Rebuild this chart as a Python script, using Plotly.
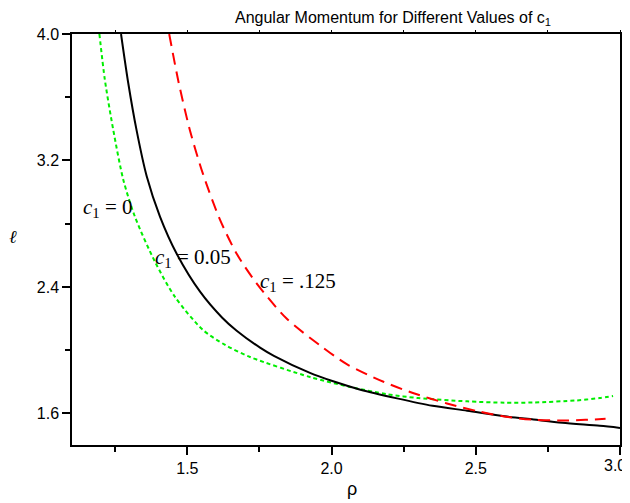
import plotly.graph_objects as go

# ---- data ----
rho_c0 = [1.195, 1.214, 1.243, 1.278, 1.318, 1.388, 1.457, 1.554, 1.631, 1.717, 1.925, 2.07, 2.19, 2.30, 2.47, 2.60, 2.70, 2.85, 2.93, 2.976]
ell_c0 = [4.00, 3.71, 3.394, 3.077, 2.845, 2.558, 2.337, 2.128, 2.033, 1.957, 1.83, 1.765, 1.722, 1.697, 1.676, 1.668, 1.669, 1.682, 1.697, 1.71]

rho_c005 = [1.270, 1.295, 1.324, 1.359, 1.405, 1.463, 1.544, 1.62, 1.671, 1.752, 1.80, 1.925, 2.0, 2.1, 2.227, 2.35, 2.47, 2.6, 2.70, 2.8, 2.93, 3.0]
ell_c005 = [4.00, 3.69, 3.39, 3.10, 2.845, 2.61, 2.37, 2.207, 2.123, 2.016, 1.964, 1.856, 1.806, 1.75, 1.695, 1.648, 1.617, 1.582, 1.561, 1.54, 1.521, 1.508]

rho_c0125 = [1.437, 1.469, 1.509, 1.555, 1.613, 1.671, 1.740, 1.844, 1.96, 2.054, 2.18, 2.282, 2.40, 2.515, 2.62, 2.70, 2.80, 2.88, 2.95]
ell_c0125 = [4.00, 3.70, 3.39, 3.11, 2.826, 2.61, 2.423, 2.20, 2.03, 1.91, 1.80, 1.729, 1.663, 1.61, 1.575, 1.56, 1.555, 1.559, 1.566]

x_ticks = [1.5, 2.0, 2.5, 3.0]
x_tick_text = ["1.5", "2.0", "2.5", ""]   # last label drawn separately so it stays inside the page
x_last_label = "3.0"
x_minor = [1.25, 1.75, 2.25, 2.75]
y_ticks = [1.6, 2.4, 3.2, 4.0]
y_minor = [2.0, 2.8, 3.6]
x_range = [1.1, 3.0]
y_range = [1.4, 4.0]

title_text = "Angular Momentum for Different Values of c<sub>1</sub>"
labels = [
    ("<i>c</i><sub>1</sub> = 0", 1.226, 2.90),
    ("<i>c</i><sub>1</sub> = 0.05", 1.521, 2.58),
    ("<i>c</i><sub>1</sub> = .125", 1.885, 2.43),
]

fig = go.Figure()
fig.add_trace(go.Scatter(x=rho_c0, y=ell_c0, mode="lines",
                         line=dict(color="#00ee00", width=2, dash="4px,3px", shape="spline", smoothing=0.8),
                         hoverinfo="skip"))
fig.add_trace(go.Scatter(x=rho_c005, y=ell_c005, mode="lines",
                         line=dict(color="black", width=2, shape="spline", smoothing=0.8),
                         hoverinfo="skip"))
fig.add_trace(go.Scatter(x=rho_c0125, y=ell_c0125, mode="lines",
                         line=dict(color="#ff0000", width=2, dash="12px,7px", shape="spline", smoothing=0.8),
                         hoverinfo="skip"))
# invisible trace to activate the mirrored-tick axes
fig.add_trace(go.Scatter(x=[x_range[0]], y=[y_range[0]], xaxis="x2", yaxis="y2",
                         mode="markers", marker=dict(opacity=0), hoverinfo="skip"))

tickfont = dict(family="Liberation Sans, Arial", size=16, color="black")

# page body has an 8px margin, so the figure is shifted by (8, 8)
fig.update_layout(
    width=630, height=495,
    margin=dict(l=64, r=18, t=26, b=58),
    paper_bgcolor="white", plot_bgcolor="white",
    showlegend=False,
    xaxis=dict(range=x_range, tickvals=x_ticks, ticktext=x_tick_text,
               ticks="outside", ticklen=8, tickwidth=1.5, tickcolor="black",
               minor=dict(tickvals=x_minor, ticks="outside", ticklen=5, tickwidth=1.5, tickcolor="black"),
               showline=True, linecolor="black", linewidth=1.5, mirror=True,
               showgrid=False, zeroline=False, tickfont=tickfont, automargin=False),
    yaxis=dict(range=y_range, tickvals=y_ticks, ticktext=[f"{v:.1f}" for v in y_ticks],
               ticks="outside", ticklen=8, tickwidth=1.5, tickcolor="black",
               minor=dict(tickvals=y_minor, ticks="outside", ticklen=5, tickwidth=1.5, tickcolor="black"),
               showline=True, linecolor="black", linewidth=1.5, mirror=True,
               showgrid=False, zeroline=False, tickfont=tickfont, automargin=False),
    xaxis2=dict(range=x_range, overlaying="x", side="top", anchor="y",
                tickvals=x_ticks, showticklabels=False, ticks="outside", ticklen=3, tickwidth=1, tickcolor="black",
                minor=dict(tickvals=x_minor, ticks="outside", ticklen=3, tickwidth=1, tickcolor="black"),
                showline=False, showgrid=False, zeroline=False, automargin=False),
    yaxis2=dict(range=y_range, overlaying="y", side="right", anchor="x",
                tickvals=y_ticks, showticklabels=False, ticks="outside", ticklen=3, tickwidth=1, tickcolor="black",
                minor=dict(tickvals=y_minor, ticks="outside", ticklen=3, tickwidth=1, tickcolor="black"),
                showline=False, showgrid=False, zeroline=False, automargin=False),
)

fig.add_annotation(text=x_last_label, xref="paper", yref="paper", x=1.0, y=-0.051,
                   xanchor="right", yanchor="middle", xshift=8, showarrow=False,
                   font=tickfont)
fig.add_annotation(text=title_text, xref="paper", yref="paper", x=0.586, y=1.038,
                   xanchor="center", yanchor="middle", showarrow=False,
                   font=dict(family="Liberation Sans, Arial", size=16, color="black"))
fig.add_annotation(text="ρ", xref="paper", yref="paper", x=0.511, y=-0.107,
                   xanchor="center", yanchor="middle", showarrow=False,
                   font=dict(family="Liberation Sans, Arial", size=18, color="black"))
fig.add_annotation(text="<i>ℓ</i>", xref="paper", yref="paper", x=-0.107, y=0.505,
                   xanchor="center", yanchor="middle", showarrow=False,
                   font=dict(family="Liberation Serif, Times New Roman", size=18, color="black"))
for txt, lx, ly in labels:
    fig.add_annotation(text=txt, x=lx, y=ly, xref="x", yref="y", showarrow=False,
                       xanchor="center", yanchor="middle",
                       font=dict(family="Liberation Serif, Times New Roman", size=21, color="black"))

fig.write_html("out.html")
